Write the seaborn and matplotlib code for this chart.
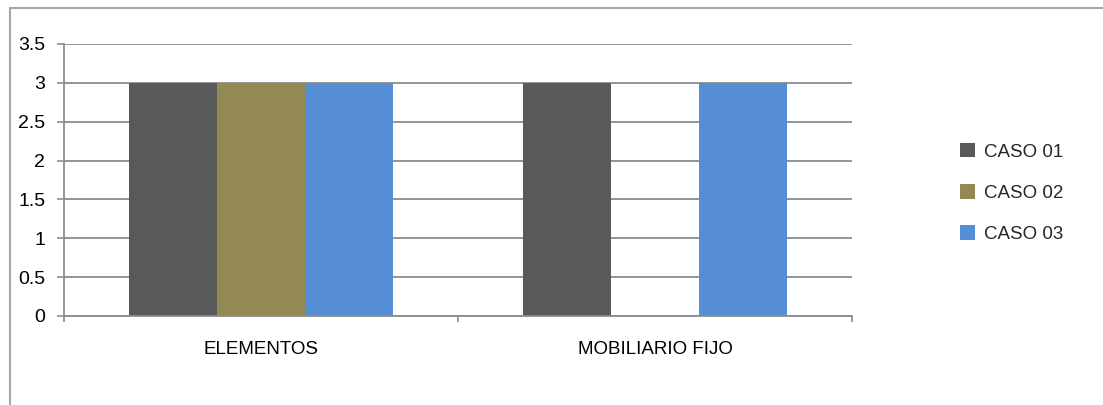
import matplotlib
matplotlib.use("Agg")
import matplotlib.pyplot as plt
import seaborn as sns
import pandas as pd
from matplotlib.lines import Line2D

categorias = ["ELEMENTOS", "MOBILIARIO FIJO"]
casos = ["CASO 01", "CASO 02", "CASO 03"]
caso_01 = [3, 3]
caso_02 = [3, 0]
caso_03 = [3, 3]
colores = ["#595959", "#938953", "#558ED5"]
y_ticks = [0, 0.5, 1, 1.5, 2, 2.5, 3, 3.5]

df = pd.DataFrame({
    "categoria": categorias * 3,
    "caso": [c for c in casos for _ in categorias],
    "valor": caso_01 + caso_02 + caso_03,
})

sns.set_style("white")
plt.rcParams["font.family"] = ["Liberation Sans", "DejaVu Sans"]

W, H = 1103, 405
fig = plt.figure(figsize=(W / 100, H / 100), dpi=100)
ax = fig.add_axes([64 / W, (H - 316) / H, (852 - 64) / W, (316 - 44) / H])

sns.barplot(data=df, x="categoria", y="valor", hue="caso", palette=colores,
            saturation=1, width=0.67, linewidth=0, errorbar=None, ax=ax)

gris = "#8c8c8c"
ax.set_ylim(0, 3.5)
ax.set_xlim(-0.5, 1.5)
ax.set_yticks(y_ticks)
ax.set_yticklabels([f"{t:g}" for t in y_ticks])
ax.yaxis.grid(True, color=gris, linewidth=1.3)
ax.set_axisbelow(True)
ax.set_xlabel("")
ax.set_ylabel("")

for s in ["top", "right"]:
    ax.spines[s].set_visible(False)
for s in ["left", "bottom"]:
    ax.spines[s].set_color(gris)
    ax.spines[s].set_linewidth(1.3)

ax.tick_params(axis="y", left=True, length=5, width=1.2, color=gris,
               pad=8.5, labelsize=14, labelcolor="black")
ax.set_xticks([-0.5, 0.5, 1.5], minor=True)
ax.tick_params(axis="x", which="minor", bottom=True, length=4.5, width=1.2, color=gris)
ax.tick_params(axis="x", which="major", bottom=False, length=0, pad=18,
               labelsize=13.5, labelcolor="black")

handles, labels = ax.get_legend_handles_labels()
ax.legend_.remove()
fig.legend(handles, labels, loc="center left", bbox_to_anchor=(943 / W, 1 - 193 / H),
           frameon=False, fontsize=13.5, handlelength=0.8, handleheight=0.8,
           handletextpad=0.5, labelspacing=1.25)

# marco exterior del gráfico (solo bordes superior e izquierdo visibles)
borde = "#a6a6a6"
fig.add_artist(Line2D([10 / W, 1.0], [1 - 8 / H, 1 - 8 / H], transform=fig.transFigure,
                      color=borde, linewidth=1.5))
fig.add_artist(Line2D([10 / W, 10 / W], [0.0, 1 - 8 / H], transform=fig.transFigure,
                      color=borde, linewidth=1.5))

fig.savefig("out.png", dpi=100)
